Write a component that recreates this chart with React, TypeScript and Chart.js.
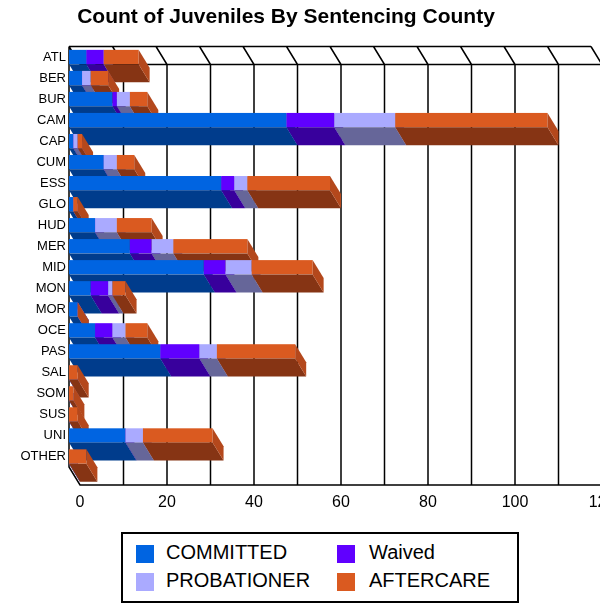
import React, { useEffect, useRef } from 'react';
import { Chart, registerables } from 'chart.js';

Chart.register(...registerables);

const categories = ['ATL', 'BER', 'BUR', 'CAM', 'CAP', 'CUM', 'ESS', 'GLO', 'HUD', 'MER', 'MID', 'MON', 'MOR', 'OCE', 'PAS', 'SAL', 'SOM', 'SUS', 'UNI', 'OTHER'];
const seriesNames = ['COMMITTED', 'Waived', 'PROBATIONER', 'AFTERCARE'];
const committed = [4, 3, 10, 50, 1, 8, 35, 1, 6, 14, 31, 5, 2, 6, 21, 0, 0, 0, 13, 0];
const waived = [4, 0, 1, 11, 0, 0, 3, 0, 0, 5, 5, 4, 0, 4, 9, 0, 0, 0, 0, 0];
const probationer = [0, 2, 3, 14, 1, 3, 3, 0, 5, 5, 6, 1, 0, 3, 4, 0, 0, 0, 4, 0];
const aftercare = [8, 4, 4, 35, 1, 4, 19, 1, 8, 17, 14, 3, 0, 5, 18, 2, 1, 2, 16, 4];
const xTickLabels = ['0', '20', '40', '60', '80', '100', '120'];
const xMin = 0;
const xMax = 120;
const xStep = 10;

const FONT = "'Liberation Sans', Arial, Helvetica, sans-serif";
const frontColors = ['#0064E1', '#6000FF', '#AAAAFF', '#DA5A20'];
const bottomColors = ['#003C8C', '#38009C', '#666699', '#863414'];
const endColors = ['#0050B4', '#4A00CC', '#8888CC', '#B4481C'];
const DX = 11;
const DY = 18;

function poly(ctx: CanvasRenderingContext2D, pts: number[]) {
  ctx.beginPath();
  ctx.moveTo(pts[0], pts[1]);
  for (let i = 2; i < pts.length; i += 2) ctx.lineTo(pts[i], pts[i + 1]);
  ctx.closePath();
  ctx.fill();
}

const depthPlugin = {
  id: 'depth3d',
  beforeDatasetsDraw(chart: any) {
    const { ctx, chartArea: a, scales } = chart;
    const xs = scales.x;
    ctx.save();
    ctx.strokeStyle = '#000';
    ctx.lineWidth = 1.5;
    ctx.beginPath();
    ctx.moveTo(a.left, a.top);
    ctx.lineTo(a.right, a.top);
    ctx.moveTo(a.left + DX, a.top + DY);
    ctx.lineTo(a.right + DX, a.top + DY);
    xs.ticks.forEach((t: any) => {
      const px = xs.getPixelForValue(t.value);
      ctx.moveTo(px, a.top);
      ctx.lineTo(px + DX, a.top + DY);
      if (t.value > xMin) {
        ctx.moveTo(px + DX, a.top + DY);
        ctx.lineTo(px + DX, a.bottom + DY);
      }
    });
    ctx.moveTo(a.left, a.top);
    ctx.lineTo(a.left, a.bottom);
    ctx.lineTo(a.left + DX, a.bottom + DY);
    ctx.lineTo(a.right + DX, a.bottom + DY);
    ctx.stroke();

    const n = chart.data.labels.length;
    const metas = chart.data.datasets.map((_: any, d: number) => chart.getDatasetMeta(d));
    for (let i = 0; i < n; i++) {
      for (let d = 0; d < metas.length; d++) {
        const el = metas[d].data[i];
        if (!el) continue;
        const { x, y, base, height } = el.getProps(['x', 'y', 'base', 'height'], true);
        const x0 = Math.min(x, base);
        const x1 = Math.max(x, base);
        const yt = y - height / 2;
        const yb = y + height / 2;
        ctx.fillStyle = frontColors[d];
        ctx.fillRect(x0, yt, x1 - x0, height);
        ctx.fillStyle = bottomColors[d];
        poly(ctx, [x0, yb, x1, yb, x1 + DX, yb + DY, x0 + DX, yb + DY]);
        ctx.fillStyle = endColors[d];
        poly(ctx, [x1, yt, x1 + DX, yt + DY, x1 + DX, yb + DY, x1, yb]);
      }
    }
    ctx.restore();
    return false;
  },
};

export default function App() {
  const ref = useRef<HTMLCanvasElement>(null);

  useEffect(() => {
    const values = [committed, waived, probationer, aftercare];
    const chart = new Chart(ref.current!, {
      type: 'bar',
      data: {
        labels: categories,
        datasets: seriesNames.map((name, d) => ({
          label: name,
          data: values[d],
          backgroundColor: frontColors[d],
          borderWidth: 0,
          barPercentage: 0.68,
          categoryPercentage: 1,
        })),
      },
      options: {
        indexAxis: 'y',
        responsive: false,
        animation: false,
        devicePixelRatio: 1,
        layout: { padding: { left: 0, right: 9, top: 46.5, bottom: 0 } },
        plugins: {
          legend: { display: false },
          title: { display: false },
          tooltip: { enabled: false },
        },
        scales: {
          x: {
            stacked: true,
            min: xMin,
            max: xMax,
            grid: { display: false, drawTicks: false },
            border: { display: false },
            ticks: {
              stepSize: xStep,
              autoSkip: false,
              maxRotation: 0,
              labelOffset: DX,
              padding: 26,
              color: '#000',
              font: { family: FONT, size: 16 },
              callback: (value: any) => {
                const s = String(value);
                return xTickLabels.includes(s) ? s : '';
              },
            },
            afterFit: (s: any) => {
              s.height = 138;
              s.paddingLeft = 0;
              s.paddingRight = 0;
            },
          },
          y: {
            stacked: true,
            grid: { display: false, drawTicks: false },
            border: { display: false },
            ticks: {
              autoSkip: false,
              padding: 3,
              color: '#000',
              font: { family: FONT, size: 13 },
            },
            afterFit: (s: any) => {
              s.width = 69;
              s.paddingTop = 0;
              s.paddingBottom = 0;
            },
          },
        },
      },
      plugins: [depthPlugin],
    } as any);
    return () => chart.destroy();
  }, []);

  const legendPos = [
    { sx: 136, sy: 545, tx: 166, ty: 542.4 },
    { sx: 337, sy: 545, tx: 369, ty: 542.4 },
    { sx: 136, sy: 573, tx: 166, ty: 569.8 },
    { sx: 337, sy: 573, tx: 369, ty: 569.8 },
  ];

  return (
    <div style={{ position: 'absolute', left: 0, top: 0, width: 613, height: 605, fontFamily: FONT, color: '#000', overflow: 'hidden' }}>
      <canvas ref={ref} width={600} height={605} style={{ position: 'absolute', left: 0, top: 0, width: 600, height: 605 }} />
      <div style={{ position: 'absolute', left: 0, top: 5, width: 572, textAlign: 'center', fontSize: 21, fontWeight: 'bold', lineHeight: '21px', whiteSpace: 'nowrap' }}>
        Count of Juveniles By Sentencing County
      </div>
      <div style={{ position: 'absolute', left: 121, top: 532, width: 398, height: 71, border: '2px solid #000', boxSizing: 'border-box', background: '#fff' }} />
      {seriesNames.map((name, d) => (
        <React.Fragment key={name}>
          <div style={{ position: 'absolute', left: legendPos[d].sx, top: legendPos[d].sy, width: 18, height: 18, background: frontColors[d] }} />
          <div style={{ position: 'absolute', left: legendPos[d].tx, top: legendPos[d].ty, fontSize: 20, lineHeight: '20px', whiteSpace: 'nowrap' }}>{name}</div>
        </React.Fragment>
      ))}
    </div>
  );
}
